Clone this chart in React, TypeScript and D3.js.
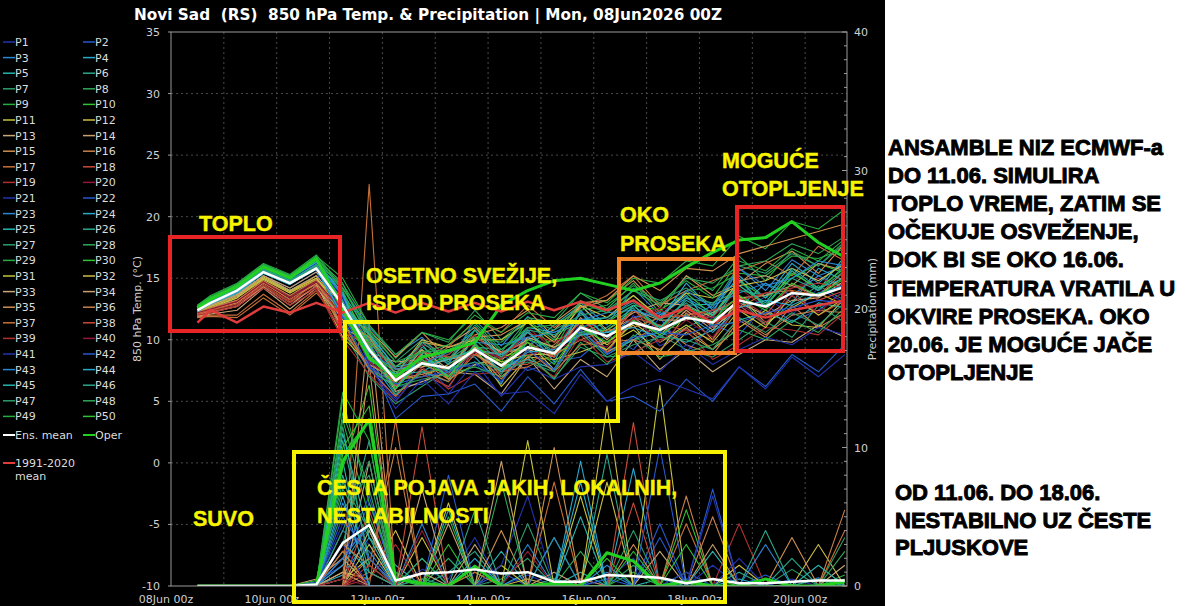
import React from 'react';
import * as d3 from 'd3';

// ---------- DATA ----------
// hours after 08Jun 00z
const HOURS = [12, 18, 30, 42, 54, 66, 78, 90, 102, 114, 126, 138, 150, 162, 174, 186, 198, 210, 222, 234, 246, 258, 270, 282, 294, 306];
const X_TICK_HOURS = [0, 48, 96, 144, 192, 240, 288];
const X_TICK_LABELS = ['08Jun 00z', '10Jun 00z', '12Jun 00z', '14Jun 00z', '16Jun 00z', '18Jun 00z', '20Jun 00z'];
const DAY_GRID_HOURS = [24, 48, 72, 96, 120, 144, 168, 192, 216, 240, 264, 288];
const TEMP_TICKS = [-10, -5, 0, 5, 10, 15, 20, 25, 30, 35];
const PRECIP_TICKS = [0, 10, 20, 30, 40];

const ENS_MEAN_T = [12.4, 13.0, 14.0, 15.5, 14.6, 15.8, 12.8, 9.2, 6.7, 8.1, 7.7, 9.2, 7.9, 9.4, 8.9, 11.0, 10.3, 11.4, 10.8, 11.8, 11.4, 13.2, 12.7, 13.8, 13.6, 14.3];
const OPER_T = [12.6, 13.3, 14.3, 15.9, 15.0, 16.6, 12.5, 8.5, 7.0, 8.6, 9.1, 9.8, 12.8, 14.0, 14.8, 15.0, 14.5, 14.0, 14.6, 15.9, 17.1, 18.1, 18.3, 19.6, 17.9, 16.7];
const CLIM_T = [11.4, 12.4, 11.4, 12.7, 12.2, 13.0, 12.2, 13.0, 12.2, 13.0, 12.3, 13.0, 12.3, 13.1, 12.4, 13.1, 12.4, 13.2, 11.8, 12.6, 11.4, 12.4, 11.8, 12.4, 12.8, 13.2];

const ENS_MEAN_P = [0, 0, 0, 0, 0, 0.1, 3.1, 4.4, 0.4, 0.9, 1.0, 1.2, 0.9, 1.0, 0.3, 0.3, 0.8, 0.7, 0.6, 0.2, 0.5, 0.2, 0.2, 0.3, 0.4, 0.4];
const OPER_P = [0, 0, 0, 0, 0, 0, 9, 12, 0.5, 0.2, 0, 1.4, 0, 0, 0.2, 0, 2.4, 1.8, 0, 0.3, 0, 0, 0.5, 0, 0, 0.3];

const MEMBER_T: number[][] = [
  [12.6,13.2,14.2,15.8,14.9,16.2, 13.0,8.0,5.2,8.4,6.0,9.8,6.5,10.2,7.4,11.5,8.8,12.0,9.5,10.6,11.8,12.2,13.5,12.0,14.2,13.0],
  [12.2,12.7,13.7,15.2,14.2,15.5, 11.0,7.5,6.2,6.4,7.8,7.9,8.8,7.5,8.2,8.6,10.4,9.2,11.8,9.0,11.2,10.4,12.8,11.5,12.4,14.0],
  [12.5,13.1,14.1,15.7,14.8,16.0, 14.2,11.0,8.8,10.2,8.0,11.6,9.5,11.9,10.2,13.0,11.2,14.2,12.0,13.4,12.2,15.8,14.0,16.5,15.2,16.0],
  [12.3,12.9,13.8,15.4,14.5,15.8, 12.0,8.4,5.5,7.4,8.6,8.6,6.4,10.8,8.2,12.4,9.0,10.2,12.0,13.6,11.0,12.6,14.6,13.0,15.8,14.8],
  [12.7,13.4,14.4,15.9,15.0,16.4, 13.8,10.5,7.8,9.6,7.2,10.2,9.0,9.4,11.2,12.8,10.6,11.4,10.6,12.8,12.9,15.0,12.6,15.6,14.0,16.8],
  [12.4,13.0,13.9,15.5,14.6,15.9, 12.8,8.8,6.0,8.9,8.4,9.8,7.2,9.8,8.6,10.4,11.0,12.6,9.8,11.0,12.0,13.4,11.2,13.0,14.4,13.2],
  [12.1,12.5,13.4,15.0,14.0,15.2, 10.8,7.0,4.8,6.2,7.6,7.4,7.6,8.8,6.9,9.4,8.6,8.8,10.4,9.2,8.6,10.0,11.5,10.2,12.8,11.4],
  [12.6,13.2,14.3,15.8,14.9,16.3, 14.5,11.2,8.5,10.6,9.8,12.4,10.0,11.8,11.4,13.8,12.5,14.6,12.2,15.2,14.0,16.8,14.8,17.2,16.0,17.8],
  [12.8,13.5,14.5,16.1,15.2,16.7, 14.0,9.2,6.4,9.8,9.4,10.0,8.2,11.6,9.2,13.0,12.2,13.6,11.6,14.0,14.2,15.4,15.2,16.8,16.6,17.4],
  [12.5,13.3,14.3,16.0,15.0,16.5, 13.6,10.0,7.6,8.0,7.2,10.8,8.6,9.2,10.0,10.6,11.4,12.8,12.4,13.8,12.0,14.8,13.4,15.0,16.2,15.4],
  [12.2,12.8,13.6,15.1,14.0,15.0, 12.5,9.8,7.8,9.2,6.8,8.0,8.4,9.8,7.6,11.2,9.6,10.8,9.0,12.2,10.0,13.6,11.4,12.6,13.8,12.8],
  [12.0,12.5,13.2,14.7,13.5,14.5, 10.2,8.0,6.8,7.0,8.0,9.4,6.2,8.6,8.4,9.0,9.8,11.2,8.4,10.6,9.2,11.0,12.4,11.2,11.0,13.4],
  [11.8,12.1,12.4,14.2,12.5,14.2, 11.8,9.4,5.8,6.6,7.4,7.2,5.6,8.6,6.0,8.4,7.0,10.0,7.6,9.2,7.4,8.8,10.0,9.8,11.2,10.2],
  [12.3,12.9,13.7,15.2,14.2,15.5, 13.2,9.0,8.2,8.4,9.6,11.0,8.8,10.0,10.8,12.8,10.8,12.2,13.0,12.8,11.8,14.8,15.2,14.4,16.2,15.6],
  [12.0,12.3,12.7,14.4,13.0,14.8, 12.0,10.8,8.6,10.6,8.4,10.4,11.0,12.4,10.2,12.6,13.2,14.8,12.6,15.2,13.6,14.6,16.2,17.2,15.4,17.8],
  [12.2,12.7,13.4,15.0,13.8,15.2, 11.0,7.6,6.6,8.2,6.8,9.6,7.0,8.6,9.6,11.4,9.0,10.0,11.2,9.6,8.8,11.6,10.2,12.8,11.0,12.2],
  [11.9,12.0,12.0,13.7,12.2,14.0, 10.6,9.6,6.2,8.0,9.4,11.6,10.6,12.8,11.0,12.6,13.6,15.2,12.8,14.0,14.8,15.6,16.4,15.2,17.6,16.4],
  [12.1,12.5,13.0,14.7,13.2,14.5, 12.4,8.2,6.8,7.2,6.2,9.2,8.0,8.0,9.4,10.8,9.0,11.8,11.2,10.8,10.0,12.8,11.2,14.0,12.0,13.2],
  [12.0,12.3,12.8,14.4,13.0,14.2, 10.0,7.2,5.0,7.8,6.0,7.2,7.4,8.4,7.0,10.4,8.2,9.0,10.0,10.8,8.4,9.6,11.0,10.8,10.4,12.2],
  [12.2,12.6,13.2,14.8,13.5,14.8, 12.6,10.0,7.0,9.6,9.0,9.6,8.4,11.0,9.2,12.2,10.2,11.8,12.6,12.2,11.8,14.2,12.6,14.2,15.0,14.4],
  [12.7,13.4,14.4,16.0,15.0,16.4, 13.6,7.8,5.0,7.6,5.6,8.2,5.4,7.8,6.8,7.8,8.0,9.0,7.4,9.6,8.0,9.2,10.2,9.6,11.0,10.4],
  [12.5,13.1,14.0,15.6,14.6,16.0, 12.0,8.6,3.6,5.4,5.6,6.4,4.2,7.0,4.8,7.6,5.0,5.4,4.2,6.8,5.0,7.8,6.2,8.8,7.4,9.6],
  [12.6,13.3,14.2,15.8,14.8,16.1, 13.2,9.8,6.0,8.6,7.4,9.0,8.8,10.2,8.6,12.4,10.2,11.8,12.2,11.6,12.8,13.8,14.6,13.6,15.2,14.2],
  [12.4,13.0,14.0,15.6,14.7,16.0, 12.8,10.4,7.8,8.2,8.8,10.8,8.4,11.0,10.6,11.6,11.8,13.2,11.6,14.6,12.4,15.2,13.4,16.2,14.6,16.4],
  [12.5,13.2,14.2,15.7,14.8,16.2, 13.6,8.4,7.2,7.4,6.6,9.4,7.8,8.4,7.6,10.8,8.8,10.0,10.6,9.8,10.8,11.6,12.2,11.4,13.0,12.6],
  [12.3,12.9,13.8,15.4,14.5,15.8, 11.8,10.0,6.6,9.4,8.0,9.4,9.2,10.6,9.0,11.0,11.6,12.8,10.8,13.4,13.0,14.0,13.6,15.6,14.0,16.0],
  [12.6,13.3,14.3,15.9,15.0,16.4, 14.2,10.6,8.2,10.0,8.4,11.2,9.0,11.6,10.8,12.0,12.4,14.0,13.2,14.2,12.8,16.0,15.4,17.0,16.0,18.0],
  [12.4,13.0,14.0,15.5,14.6,15.9, 11.6,7.6,6.2,6.8,7.2,7.8,7.0,8.8,6.8,9.8,8.0,10.4,8.6,9.0,9.6,10.8,10.0,11.6,10.6,12.6],
  [12.7,13.5,14.5,16.1,15.2,16.8, 15.0,11.2,8.8,10.6,10.0,12.0,10.6,12.2,11.8,13.8,13.0,15.0,14.6,16.4,16.0,18.4,17.4,19.6,19.0,20.6],
  [12.6,13.4,14.4,16.0,15.1,16.6, 13.0,9.0,7.4,8.0,8.6,9.0,7.4,10.0,9.4,10.6,10.8,12.4,11.0,12.6,12.0,14.4,12.8,15.4,14.2,15.8],
  [12.2,12.7,13.5,15.0,13.9,15.0, 12.2,9.4,6.2,8.8,7.0,9.4,8.2,8.8,8.8,10.0,9.2,11.4,9.8,11.2,9.8,12.4,11.0,13.6,12.0,13.4],
  [12.1,12.6,13.4,14.9,13.8,14.9, 13.0,10.4,7.2,10.0,9.4,10.0,10.0,11.4,9.8,12.8,11.8,13.6,11.8,13.8,13.4,14.4,14.8,15.8,14.8,16.2],
  [11.9,12.2,12.7,14.3,12.8,14.4, 11.0,9.8,7.6,7.8,8.4,8.8,7.6,10.2,9.4,10.4,10.6,11.8,10.4,12.4,10.8,13.0,12.0,13.2,13.4,14.8],
  [12.3,12.8,13.6,15.2,14.0,15.2, 12.8,9.0,6.6,9.2,7.6,10.2,9.0,9.2,8.6,11.8,10.0,12.4,11.6,11.6,12.2,13.4,13.6,14.4,13.6,15.2],
  [12.0,12.4,13.0,14.6,13.3,14.6, 11.6,10.2,7.2,9.8,9.4,10.2,10.4,11.6,11.4,13.0,13.2,15.2,14.0,15.8,15.6,17.0,17.6,18.2,18.8,19.4],
  [12.2,12.6,13.2,14.8,13.6,14.9, 10.6,8.0,6.8,7.2,7.8,9.0,6.8,9.2,7.4,9.6,9.8,10.0,9.2,11.0,9.2,11.8,10.4,12.0,12.4,12.2],
  [11.8,11.9,11.8,13.4,12.0,13.8, 11.4,7.6,5.4,7.6,6.6,8.8,7.4,7.8,8.8,10.0,10.8,11.0,11.8,12.0,12.4,12.6,13.8,14.0,13.6,15.6],
  [12.1,12.4,12.9,14.5,13.1,14.3, 12.0,9.4,6.2,9.0,8.6,8.8,9.0,9.8,8.6,11.6,10.2,12.4,10.8,12.8,11.0,13.4,12.0,14.6,13.2,14.0],
  [12.0,12.2,12.7,14.2,12.8,14.0, 10.6,9.8,7.6,8.2,8.8,10.4,8.4,10.6,9.8,10.8,11.6,11.6,12.4,11.8,12.4,13.2,13.8,14.2,14.6,14.2],
  [12.2,12.5,13.1,14.7,13.4,14.7, 12.4,8.2,6.8,8.6,7.2,9.0,8.6,8.8,9.2,10.0,9.4,11.8,9.8,11.6,10.2,13.0,11.4,13.6,12.2,14.0],
  [12.6,13.3,14.2,15.8,14.9,16.2, 13.4,8.0,4.4,6.8,4.8,7.4,5.6,5.8,4.0,7.2,5.0,6.2,6.8,6.0,5.2,7.8,6.0,8.6,7.0,8.8],
  [12.4,13.0,13.9,15.5,14.6,15.8, 11.8,7.8,6.4,7.0,7.4,8.2,6.6,9.2,7.6,10.8,8.8,10.2,10.6,10.4,11.2,11.4,12.2,12.6,13.2,13.0],
  [12.5,13.2,14.2,15.7,14.8,16.1, 13.6,9.0,7.6,8.0,9.0,9.8,9.6,10.2,10.6,11.6,12.2,12.4,11.8,14.0,12.6,15.8,14.4,15.0,16.4,16.0],
  [12.3,12.9,13.8,15.4,14.5,15.7, 12.0,9.4,6.0,8.8,7.0,9.6,7.4,9.0,9.2,10.4,10.6,11.0,10.2,12.0,10.6,12.6,13.2,12.8,13.8,14.4],
  [12.6,13.3,14.3,15.9,15.0,16.3, 13.8,8.6,7.2,8.0,8.4,9.2,8.8,10.6,8.8,12.2,10.2,12.8,11.0,13.2,12.0,14.4,13.0,15.8,14.2,15.0],
  [12.5,13.1,14.1,15.7,14.8,16.1, 13.0,10.4,7.2,9.8,8.2,10.8,8.6,10.8,10.4,11.4,11.8,13.0,11.6,13.0,11.2,14.8,12.8,15.0,14.0,15.6],
  [12.4,13.0,14.0,15.6,14.7,16.0, 12.4,9.2,5.6,7.4,7.6,8.2,7.6,8.2,7.4,10.6,8.6,9.6,10.2,10.0,9.2,11.8,10.6,12.2,11.2,13.0],
  [12.7,13.4,14.5,16.1,15.2,16.6, 14.6,9.8,7.8,9.0,9.2,10.2,9.8,11.6,10.0,13.2,12.2,14.0,12.8,15.0,14.6,16.0,16.4,17.8,17.0,18.4],
  [12.8,13.6,14.6,16.2,15.3,16.9, 14.2,10.8,8.2,9.0,9.6,11.4,9.2,11.0,11.2,12.4,12.8,14.4,13.0,14.8,13.4,16.4,15.6,17.4,16.4,18.2],
  [12.6,13.4,14.4,16.0,15.1,16.5, 12.8,9.6,6.0,8.4,7.0,9.6,8.0,9.8,8.0,11.0,9.8,11.6,10.4,11.8,11.6,13.6,12.4,14.6,13.6,15.0],
];

const MEMBER_P: number[][] = [
  [0,0,0,0,0,0,2.5,4.0,0,1.2,0.5,3.5,0,0.8,0,0,0.5,2.0,0,0,1.5,0,0,0.5,0,0],
  [0,0,0,0,0,0.3,1.5,6.0,0.5,0,2.0,0,1.0,0,0,0.5,0,0,3.5,0,0,0,0.8,0,0,0],
  [0,0,0,0,0,0,4.0,2.5,0,0.5,0,1.5,0,3.0,0,0,1.0,0,0,0.5,0,0,0,0,0.6,0],
  [0,0,0,0,0,0,0.8,3.5,1.5,0,5.5,0,0,1.0,0.5,0,0,8.5,0,0,0,0.5,0,0,0,0.4],
  [0,0,0,0,0,0,3.2,1.0,0,2.0,0,0,2.5,0,0,1.0,0,0,0.5,0,2.5,0,0,0,0,0],
  [0,0,0,0,0,0,10.5,2.0,0,0,1.0,2.5,0,0,0.5,0,9.5,0,0,0,0,1.0,0,0,0.5,0],
  [0,0,0,0,0,0,5.5,8.0,0,0.5,0,0,0.5,2.0,0,0,0,1.5,0,0,0,0,0,1.2,0,0],
  [0,0,0,0,0,0.2,7.0,3.5,1.0,0,0,1.5,0,0,0,2.5,0,0,0,1.0,0,0,0,0,0,0.8],
  [0,0,0,0,0,0,12.0,5.0,0,0,2.0,0,0,0,3.5,0,0,1.0,0,0,0,0,0.5,0,0,0],
  [0,0,0,0,0,0,8.5,14.5,0.5,0,0,1.0,0,0,0,0,2.0,0,0,0,0.5,0,0,0,0,0.5],
  [0,0,0,0,0,0,0.5,2.0,0,3.5,0,0,1.5,0,0,6.5,0,0,14.5,0,0,0,0,0,0,0],
  [0,0,0,0,0,0,1.0,0.5,4.0,0,0,0,0,0.5,0,0,7.5,0,0,0,0,1.5,0,0,3.0,0],
  [0,0,0,0,0,0,0,9.0,0,1.0,0,3.0,0,0,0,0,0,0,2.5,0,0,0,0,0,0,1.5],
  [0,0,0,0,0,0.5,2.0,0,0,0,4.5,0,0,0,1.0,0,0,0,0,0,0,0,0,0,0,0],
  [0,0,0,0,0,0,0,16.0,0,0,0,0,4.0,0,0,0,0,3.0,0,0,0,0,0,3.5,0,0],
  [0,0,0,0,0,0,3.0,1.5,10.0,0,0,0,0,0,0,0.5,0,0,0,0,5.0,0,0,0,0,5.5],
  [0,0,0,0,0,0,0.5,29.0,0,0,0,1.0,0,0,7.5,0,0,0,0,4.5,0,0,0,0,0,0],
  [0,0,0,0,0,0,0,1.0,0,11.5,0,0,0,0,0,0,0,11.8,0,0,0,0,0,0,0,0],
  [0,0,0,0,0,0,0,0.5,3.0,0,0,0,0,0,0,0,0,0,0,0,0,4.5,0,0,0,0],
  [0,0,0,0,0,0,1.5,0,0,0,0,0,0,2.5,0,0,0,0,0,0,0,0,0,0,0,0],
  [0,0,0,0,0,0,4.5,3.0,0,0,0,0,1.5,6.5,0,0,0,0,0,1.0,0,2.0,0,0,0,0],
  [0,0,0,0,0,0,2.0,6.5,0,0,8.0,0,0,0,0,0,0.5,0,4.5,0,7.0,0,0,0,0,0],
  [0,0,0,0,0,0,6.0,2.0,0,4.5,0,0,0,0,0,0,1.5,0,0,0,0,0,3.0,0,0,0],
  [0,0,0,0,0,0,1.5,4.5,0,0,0,2.0,0,0,0,9.0,0,0,0,0,0,0,0,0,0,0],
  [0,0,0,0,0,0,9.0,0,0,0,0,0,0,0,0,5.0,0,0,0,0,0,0,0,0,1.5,0],
  [0,0,0,0,0,0,3.0,10.5,0,0,0,5.5,0,0,0,0,0,0,0,0,0,0,0,2.0,0,0],
  [0,0,0,0,0,0,11.5,1.5,0,2.0,0,0,0,0,0,0,0,4.0,0,0,0,0,0,0,0,3.5],
  [0,0,0,0,0,0,7.5,4.0,0,0,0,0,7.5,0,0,0,0,0,0,0,0,0,0,0,0,0],
  [0,0,0,0,0,0,13.5,6.0,1.0,0,0,0,0,0,0,0,0,2.5,0,0,0,0,0,0,0,0],
  [0,0,0,0,0,0.4,9.5,12.0,0,0,3.0,0,0,0,0,0,0,0,0,5.5,0,0,0,0,0,0],
  [0,0,0,0,0,0,0,3.0,0,0,0,0,0,10.5,0,0,0,0,0,0,0,0,0,0,0,0],
  [0,0,0,0,0,0,2.5,0,0,0,6.0,0,0,0,0,0,13.0,0,0,0,0,0,0,0,0,0],
  [0,0,0,0,0,0,0,4.0,0,7.0,0,0,0,0,0,0,0,0,0,0,0,0,0,0,0,0],
  [0,0,0,0,0,0,1.0,0,0,0,0,0,9.0,0,0,0,0,0,0,0,3.0,0,0,0,0,0],
  [0,0,0,0,0,0,0,19.0,0,0,0,0,0,0,10.0,0,0,0,0,0,0,0,0,0,0,0],
  [0,0,0,0,0,0,0,2.0,0,0,0,0,0,0,0,0,0,0,0,6.5,0,0,0,0,0,0],
  [0,0,0,0,0,0,2.5,0,12.0,0,0,0,0,0,0,0,0,0,0,0,0,0,0,0,0,4.0],
  [0,0,0,0,0,0,0,5.5,0,0,0,0,0,0,0,0,0,6.0,0,0,0,0,0,0,0,0],
  [0,0,0,0,0,0,0,1.5,0,0,0,0,0,0,0,0,0,0,0,0,0,0,0,0,0,0],
  [0,0,0,0,0,0,0.5,0,0,4.0,0,0,0,0,0,0,0,0,0,0,0,0,0,0,0,0],
  [0,0,0,0,0,0,3.0,0,0,0,0,0,0,0,0,0,0,0,0,0,6.5,0,0,0,0,0],
  [0,0,0,0,0,0,5.0,2.0,0,0,0,0,0,0,0,0,0,0,10.0,0,0,0,0,0,0,0],
  [0,0,0,0,0,0,2.0,4.5,0,0,0,0,0,0,3.5,0,0,0,0,0,0,0,0,0,0,0],
  [0,0,0,0,0,0,6.5,0,0,0,0,0,0,0,0,7.5,0,0,0,0,0,0,0,0,0,0],
  [0,0,0,0,0,0,11.0,3.5,0,0,0,0,0,0,0,0,0,0,0,0,0,0,0,0,0,0],
  [0,0,0,0,0,0,8.0,1.0,0,0,0,0,0,0,0,0,0,0,0,0,0,0,4.0,0,0,0],
  [0,0,0,0,0,0,4.0,9.0,0,0,0,0,0,4.5,0,0,0,0,0,0,0,0,0,0,0,0],
  [0,0,0,0,0,0,12.5,7.0,0,0,0,0,0,0,0,0,0,0,0,0,0,0,0,0,0,2.5],
  [0,0,0,0,0,0,14.0,10.5,0,0,5.0,0,0,0,0,0,0,0,0,0,0,0,0,0,0,0],
  [0,0,0,0,0,0,10.0,13.0,0,0,0,0,0,0,0,0,0,0,0,3.0,0,0,0,0,0,0],
];

const MEMBER_PALETTE = ['#2233b0', '#2659cc', '#2a86d0', '#28a8cc', '#26b4b0', '#28a88a', '#2c9c6c', '#2ea858', '#26ac40', '#30c430',
  '#c4c43a', '#ccbe44', '#c8a87a', '#c8a070', '#d09050', '#c8804a', '#c87038', '#c84a3a', '#b03030', '#901838'];

const INFO_LINES = ['ANSAMBLE NIZ ECMWF-a', 'DO 11.06. SIMULIRA', 'TOPLO VREME, ZATIM SE', 'OČEKUJE OSVEŽENJE,', 'DOK BI SE OKO 16.06.',
  'TEMPERATURA VRATILA U', 'OKVIRE PROSEKA. OKO', '20.06. JE MOGUĆE JAČE', 'OTOPLJENJE'];
const INFO2_LINES = ['OD 11.06. DO 18.06.', 'NESTABILNO UZ ČESTE', 'PLJUSKOVE'];

// ---------- LAYOUT ----------
const W = 1200, H = 606;
const PL = 171, PR = 847, PT = 32, PB = 586;
const x = d3.scaleLinear().domain([0, 307]).range([PL, PR]);
const yT = d3.scaleLinear().domain([-10, 35]).range([PB, PT]);
const yP = d3.scaleLinear().domain([0, 40]).range([PB, PT]);

const lineT = d3.line<number>().x((_, i) => x(HOURS[i])).y(d => yT(d));
const lineP = d3.line<number>().x((_, i) => x(HOURS[i])).y(d => yP(Math.min(d, 40)));

const FONT = "'DejaVu Sans', Verdana, sans-serif";
const BOLD = "'Liberation Sans', Arial, sans-serif";
const YEL = '#f8f400';

export default function App() {
  const members = MEMBER_T.map((_, k) => k);
  const legendRows = d3.range(25);
  const precipMinor = d3.range(0, 41, 1);
  return (
    <div style={{ position: 'absolute', left: 0, top: 0 }}>
      <svg width={W} height={H} style={{ display: 'block' }}>
        <rect x={0} y={0} width={885} height={H} fill="#000" />
        <rect x={885} y={0} width={W - 885} height={H} fill="#fff" />
        <defs>
          <clipPath id="plotclip"><rect x={PL} y={PT} width={PR - PL} height={PB - PT} /></clipPath>
        </defs>
        {/* title */}
        <text x={428} y={20} fill="#fff" fontFamily={FONT} fontWeight="bold" fontSize={15.5} textAnchor="middle"
          style={{ whiteSpace: 'pre' }} textLength={588} lengthAdjust="spacingAndGlyphs">
          {'Novi Sad  (RS)  850 hPa Temp. & Precipitation | Mon, 08Jun2026 00Z'}
        </text>
        {/* grid */}
        {TEMP_TICKS.slice(1, -1).map(t => (
          <line key={'gy' + t} x1={PL} x2={PR} y1={yT(t)} y2={yT(t)} stroke="#4a4a4a" strokeDasharray="2,3" strokeWidth={1} />
        ))}
        {DAY_GRID_HOURS.map(h => (
          <line key={'gx' + h} x1={x(h)} x2={x(h)} y1={PT} y2={PB} stroke="#4a4a4a" strokeDasharray="2,3" strokeWidth={1} />
        ))}
        {/* series */}
        <g clipPath="url(#plotclip)" fill="none" strokeLinejoin="round">
          {members.map(k => (
            <path key={'mp' + k} d={lineP(MEMBER_P[k]) || ''} stroke={MEMBER_PALETTE[k % 20]} strokeWidth={1.1} />
          ))}
          {members.map(k => (
            <path key={'mt' + k} d={lineT(MEMBER_T[k]) || ''} stroke={MEMBER_PALETTE[k % 20]} strokeWidth={1.1} />
          ))}
          <path d={lineP(OPER_P) || ''} stroke="#22d022" strokeWidth={3} />
          <path d={lineT(OPER_T) || ''} stroke="#22d022" strokeWidth={3} />
          <path d={lineT(CLIM_T) || ''} stroke="#e03c3c" strokeWidth={2.5} />
          <path d={lineP(ENS_MEAN_P) || ''} stroke="#ffffff" strokeWidth={2.5} />
          <path d={lineT(ENS_MEAN_T) || ''} stroke="#ffffff" strokeWidth={2.5} />
        </g>
        {/* frame */}
        <rect x={PL} y={PT} width={PR - PL} height={PB - PT} fill="none" stroke="#9a9a9a" strokeWidth={1} />
        {/* left axis */}
        {TEMP_TICKS.map(t => (
          <g key={'lt' + t}>
            <line x1={PL - 3} x2={PL} y1={yT(t)} y2={yT(t)} stroke="#9a9a9a" />
            <text x={160} y={yT(t) + 4} fill="#d0d0d0" fontFamily={FONT} fontSize={11} textAnchor="end">{t}</text>
          </g>
        ))}
        <text transform={`translate(141,${(PT + PB) / 2}) rotate(-90)`} fill="#d0d0d0" fontFamily={FONT} fontSize={11} textAnchor="middle">850 hPa Temp. (°C)</text>
        {/* right axis */}
        {precipMinor.map(p => (
          <line key={'rm' + p} x1={PR - (p % 10 === 0 ? 5 : 3)} x2={PR} y1={yP(p)} y2={yP(p)} stroke="#9a9a9a" />
        ))}
        {PRECIP_TICKS.map(p => (
          <text key={'rt' + p} x={854} y={yP(p) + 4} fill="#d0d0d0" fontFamily={FONT} fontSize={11}>{p}</text>
        ))}
        <text transform={`translate(876,${(PT + PB) / 2}) rotate(-90)`} fill="#d0d0d0" fontFamily={FONT} fontSize={11} textAnchor="middle">Precipitation (mm)</text>
        {/* x axis */}
        {X_TICK_HOURS.map((h, i) => (
          <text key={'xt' + h} x={x(h) - 5} y={603} fill="#d0d0d0" fontFamily={FONT} fontSize={11} textAnchor="middle">{X_TICK_LABELS[i]}</text>
        ))}
        {/* legend */}
        {legendRows.map(r => (
          <g key={'lg' + r} fontFamily={FONT} fontSize={11} fill="#dcdcdc">
            <line x1={3} x2={15} y1={42 + r * 15.6} y2={42 + r * 15.6} stroke={MEMBER_PALETTE[(2 * r) % 20]} strokeWidth={1.5} />
            <text x={15} y={46 + r * 15.6}>{'P' + (2 * r + 1)}</text>
            <line x1={83} x2={95} y1={42 + r * 15.6} y2={42 + r * 15.6} stroke={MEMBER_PALETTE[(2 * r + 1) % 20]} strokeWidth={1.5} />
            <text x={95} y={46 + r * 15.6}>{'P' + (2 * r + 2)}</text>
          </g>
        ))}
        <g fontFamily={FONT} fontSize={11} fill="#dcdcdc">
          <line x1={3} x2={15} y1={435} y2={435} stroke="#fff" strokeWidth={2} />
          <text x={15} y={439}>Ens. mean</text>
          <line x1={83} x2={95} y1={435} y2={435} stroke="#22d022" strokeWidth={2} />
          <text x={95} y={439}>Oper</text>
          <line x1={3} x2={15} y1={463} y2={463} stroke="#e03c3c" strokeWidth={2} />
          <text x={15} y={467}>1991-2020</text>
          <text x={15} y={480}>mean</text>
        </g>
        {/* annotation boxes */}
        <g fill="none" strokeWidth={4}>
          <rect x={170} y={237} width={170} height={94} stroke="#e82424" />
          <rect x={345} y={322} width={273} height={99} stroke={YEL} />
          <rect x={619} y={259} width={116} height={94} stroke="#f08428" />
          <rect x={737} y={207} width={106} height={144} stroke="#e82424" />
          <rect x={294} y={452} width={431} height={150} stroke={YEL} />
        </g>
        <g fontFamily={BOLD} fontWeight="bold" fontSize={21.5} fill={YEL} stroke={YEL} strokeWidth={0.4}>
          <text x={199} y={231}>TOPLO</text>
          <text x={366} y={283}>OSETNO SVEŽIJE,</text>
          <text x={366} y={310}>ISPOD PROSEKA</text>
          <text x={620} y={222}>OKO</text>
          <text x={620} y={251}>PROSEKA</text>
          <text x={722} y={168}>MOGUĆE</text>
          <text x={722} y={196}>OTOPLJENJE</text>
          <text x={317} y={495}>ČESTA POJAVA JAKIH, LOKALNIH,</text>
          <text x={317} y={523}>NESTABILNOSTI</text>
          <text x={193} y={526}>SUVO</text>
        </g>
        {/* right-hand notes */}
        <g fontFamily={BOLD} fontWeight="bold" fontSize={22} fill="#000" stroke="#000" strokeWidth={0.9}>
          {INFO_LINES.map((s, i) => (
            <text key={'in' + i} x={888} y={155 + i * 28.1}>{s}</text>
          ))}
          {INFO2_LINES.map((s, i) => (
            <text key={'in2' + i} x={895} y={500 + i * 27.5}>{s}</text>
          ))}
        </g>
      </svg>
    </div>
  );
}
